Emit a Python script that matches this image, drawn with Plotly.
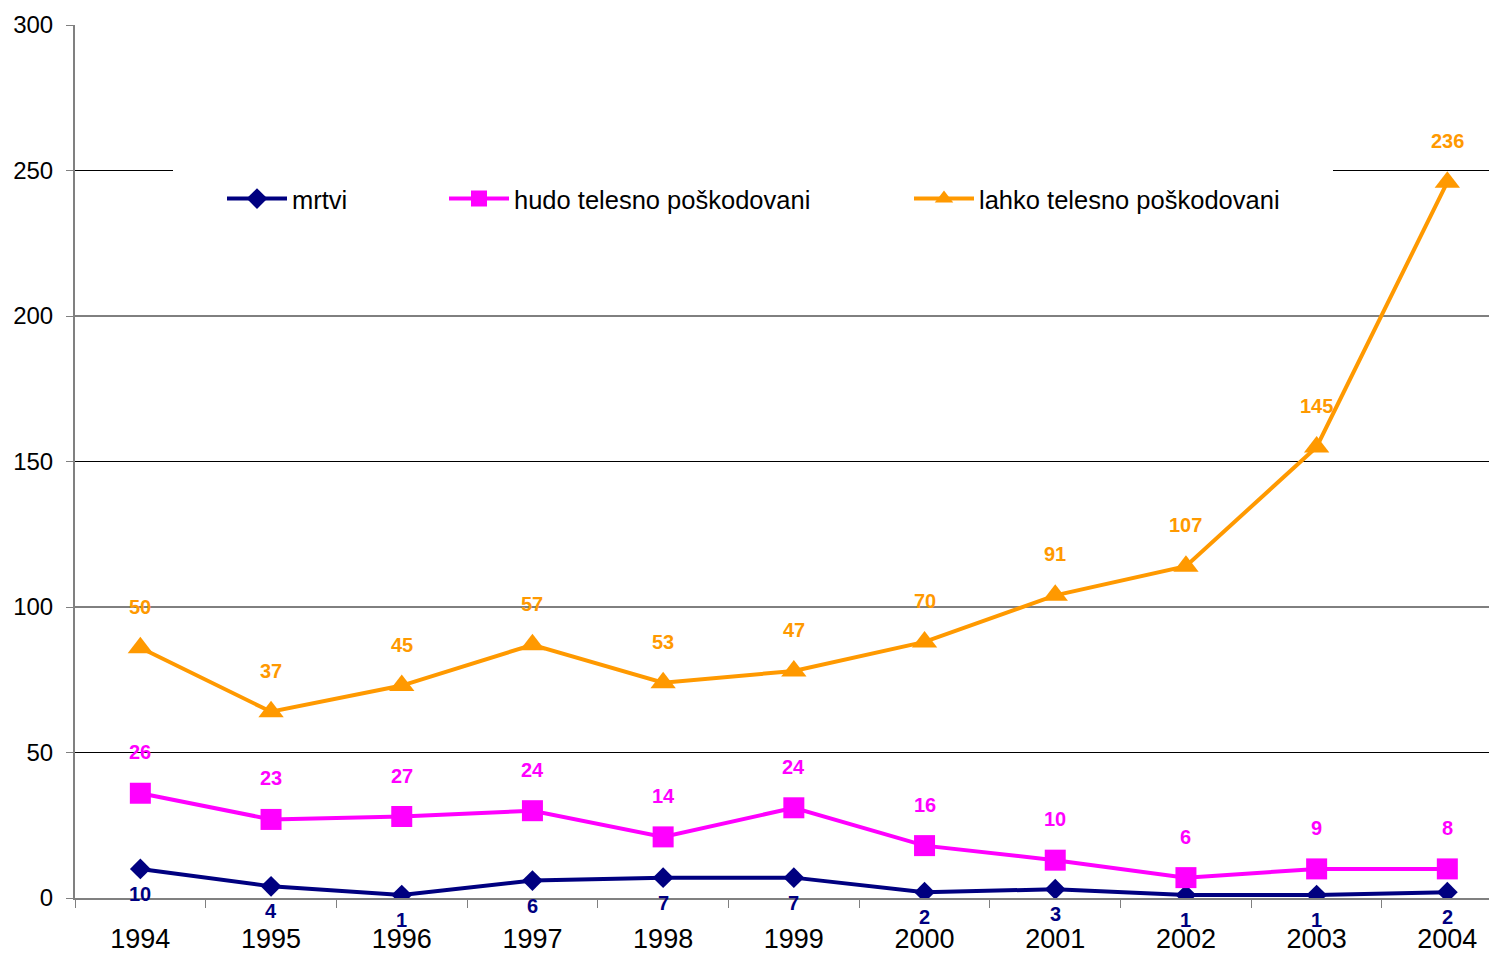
import numpy as np
import plotly.graph_objects as go

years = ["1994", "1995", "1996", "1997", "1998", "1999", "2000", "2001", "2002", "2003", "2004"]
mrtvi = [10, 4, 1, 6, 7, 7, 2, 3, 1, 1, 2]
hudo = [26, 23, 27, 24, 14, 24, 16, 10, 6, 9, 8]
lahko = [50, 37, 45, 57, 53, 47, 70, 91, 107, 145, 236]
series_names = ["mrtvi", "hudo telesno poškodovani", "lahko telesno poškodovani"]
y_ticks = [0, 50, 100, 150, 200, 250, 300]
grid_values = [50, 100, 150, 200, 250]

colors = ["#000080", "#FF00FF", "#FF9900"]
symbols = ["diamond", "square", "triangle-up"]
msizes = [16, 21, 22]
legend_ids = ["legend", "legend2", "legend3"]
series = [mrtvi, hudo, lahko]

# page has an 8px body margin: size the figure so the plot area lands where wanted
OFF = 8
W, H = 1497 - OFF, 954 - OFF
PLOT_L, PLOT_T, PLOT_B = 75, 25, 898  # page pixels
ML, MR, MT = PLOT_L - OFF, 0, PLOT_T - OFF
MB = H - (PLOT_B - OFF)
PW, PH = W - ML - MR, H - MT - MB


def px_to_paper_x(px):
    return (px - PLOT_L) / PW


def px_to_paper_y(py):
    return (PLOT_B - py) / PH


fig = go.Figure()
for vals, name, col, sym, ms, lg in zip(series, series_names, colors, symbols, msizes, legend_ids):
    fig.add_trace(go.Scatter(
        x=years, y=vals, name=name, stackgroup="one", fill="none",
        mode="lines+markers",
        line=dict(color=col, width=4),
        marker=dict(symbol=sym, size=ms, color=col),
        legend=lg, showlegend=True, hoverinfo="skip",
    ))

# data labels at stacked positions
stacked = np.cumsum(np.array(series), axis=0)
label_shift = [-25, 41, 41]
annotations = []
for k, vals in enumerate(series):
    for i, v in enumerate(vals):
        annotations.append(dict(
            x=i, y=float(stacked[k][i]), xref="x", yref="y",
            text="<b>" + str(v) + "</b>", showarrow=False, yshift=label_shift[k],
            font=dict(family="Liberation Sans, Arial", size=20, color=colors[k]),
        ))

shapes = []
for g in grid_values:
    shapes.append(dict(type="line", xref="paper", x0=0, x1=1, yref="y", y0=g, y1=g,
                       line=dict(color="#000000", width=1), layer="below"))
# white legend box covering gridline
shapes.append(dict(type="rect", xref="paper", yref="paper",
                   x0=px_to_paper_x(173), x1=px_to_paper_x(1333),
                   y0=px_to_paper_y(262), y1=px_to_paper_y(140),
                   fillcolor="white", line=dict(width=0), layer="below"))

leg_common = dict(orientation="h", bgcolor="rgba(0,0,0,0)", borderwidth=0,
                  font=dict(family="Liberation Sans, Arial", size=25.5, color="#000000"),
                  itemwidth=60, xref="paper", yref="paper",
                  xanchor="left", yanchor="middle", visible=True)
leg_x = [222, 444, 909]
leg_y = px_to_paper_y(199)

fig.update_layout(
    width=W, height=H, showlegend=True,
    margin=dict(l=ML, r=MR, t=MT, b=MB, pad=0, autoexpand=False),
    paper_bgcolor="white", plot_bgcolor="white",
    font=dict(family="Liberation Sans, Arial", color="#000000"),
    shapes=shapes, annotations=annotations,
    legend=dict(x=px_to_paper_x(leg_x[0]), y=leg_y, **leg_common),
    legend2=dict(x=px_to_paper_x(leg_x[1]), y=leg_y, **leg_common),
    legend3=dict(x=px_to_paper_x(leg_x[2]), y=leg_y, **leg_common),
    xaxis=dict(
        type="category", range=[-0.5, 10.38],
        tickson="boundaries", ticks="outside", ticklen=8, tickcolor="#808080", tickwidth=1,
        showline=True, linecolor="#808080", linewidth=2,
        showgrid=False, zeroline=False,
        tickfont=dict(family="Liberation Sans, Arial", size=27, color="#000000"),
        ticklabelstandoff=16,
    ),
    yaxis=dict(
        range=[0, 300], tickvals=y_ticks, ticks="outside", ticklen=7,
        tickcolor="#808080", tickwidth=1,
        showline=True, linecolor="#808080", linewidth=2,
        showgrid=False, zeroline=False,
        tickfont=dict(family="Liberation Sans, Arial", size=24, color="#000000"),
        ticklabelstandoff=8,
    ),
)

fig.write_html("out.html")
